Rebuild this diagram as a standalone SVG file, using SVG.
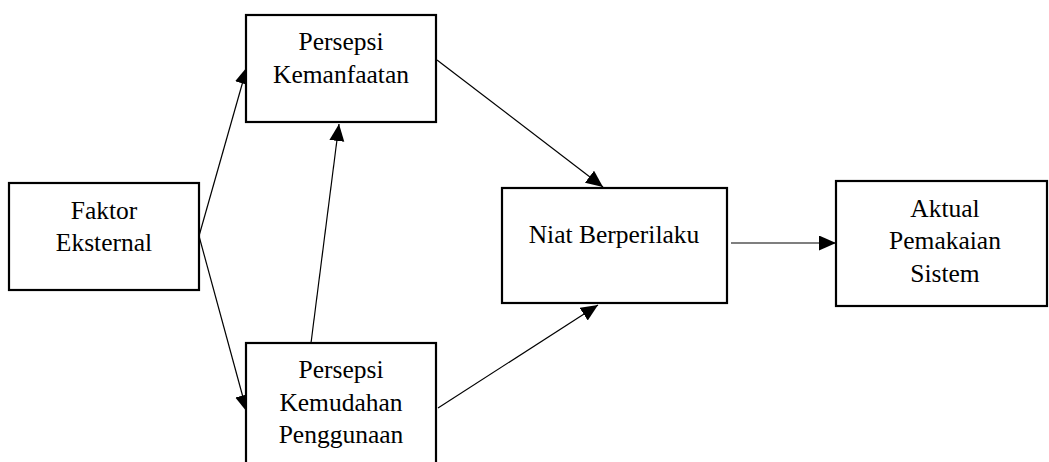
<svg xmlns="http://www.w3.org/2000/svg" width="1049" height="462" viewBox="0 0 1049 462">
<style>
.box{fill:#fff;stroke:#000;stroke-width:2.2}
.t{font-family:"Liberation Serif","Times New Roman",serif;font-size:25.5px;fill:#000;text-anchor:middle}
.c{stroke:#000;stroke-width:1.2;fill:none;marker-end:url(#ah)}
</style>
<defs>
<marker id="ah" markerUnits="userSpaceOnUse" markerWidth="20" markerHeight="16" refX="17" refY="7.5" orient="auto">
<path d="M0,0 L17,7.5 L0,15 Z" fill="#000"/>
</marker>
</defs>
<rect width="1049" height="462" fill="#fff"/>
<g id="connectors">
<line class="c" x1="199" y1="236" x2="247" y2="67"/>
<line class="c" x1="199" y1="236" x2="247" y2="412"/>
<line class="c" x1="311" y1="343" x2="339" y2="124"/>
<line class="c" x1="437" y1="60" x2="603" y2="187"/>
<line class="c" x1="438" y1="408" x2="598" y2="305"/>
<line class="c" x1="731" y1="243" x2="836" y2="243"/>
</g>
<g id="faktor">
<rect class="box" x="9" y="183" width="190" height="107"/>
<text class="t" x="104" y="219">Faktor</text>
<text class="t" x="104" y="251">Eksternal</text>
</g>
<g id="kemanfaatan">
<rect class="box" x="246" y="15" width="190" height="107"/>
<text class="t" x="341" y="50">Persepsi</text>
<text class="t" x="341" y="83">Kemanfaatan</text>
</g>
<g id="kemudahan">
<rect class="box" x="246" y="343" width="190" height="130"/>
<text class="t" x="341" y="378">Persepsi</text>
<text class="t" x="341" y="411">Kemudahan</text>
<text class="t" x="341" y="443">Penggunaan</text>
</g>
<g id="niat">
<rect class="box" x="502" y="188" width="225" height="115"/>
<text class="t" x="614" y="243">Niat Berperilaku</text>
</g>
<g id="aktual">
<rect class="box" x="836" y="181" width="211" height="125"/>
<text class="t" x="945" y="217">Aktual</text>
<text class="t" x="945" y="249">Pemakaian</text>
<text class="t" x="945" y="282">Sistem</text>
</g>
</svg>
